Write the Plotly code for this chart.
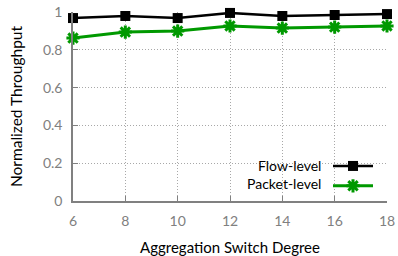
import plotly.graph_objects as go

degrees = [6, 8, 10, 12, 14, 16, 18]
flow_level = [0.968, 0.979, 0.968, 0.995, 0.979, 0.984, 0.989]
packet_level = [0.862, 0.894, 0.899, 0.926, 0.915, 0.920, 0.926]
series_names = ["Flow-level", "Packet-level"]
y_ticks = [0, 0.2, 0.4, 0.6, 0.8, 1]
y_tick_text = ["0", "0.2", "0.4", "0.6", "0.8", "1"]

FONT = "Lato, 'Open Sans', sans-serif"
GRAY = "#808080"
GRID = "#a8a8a8"

fig = go.Figure()
fig.add_trace(go.Scatter(
    x=degrees, y=flow_level, name=" ", mode="lines+markers",
    line=dict(color="black", width=2.5),
    marker=dict(symbol="square", size=10, color="black"),
    cliponaxis=False,
))
fig.add_trace(go.Scatter(
    x=degrees, y=packet_level, name=" ", mode="lines+markers",
    line=dict(color="#009900", width=3),
    marker=dict(symbol="asterisk-open", size=11, color="#009900",
                line=dict(color="#009900", width=3)),
    cliponaxis=False,
))

fig.update_layout(
    template="none",
    width=398, height=256,
    margin=dict(l=73, r=11, t=12, b=55, autoexpand=False),
    paper_bgcolor="white", plot_bgcolor="white",
    font=dict(family=FONT, size=13, color="black"),
    showlegend=True,
    legend=dict(x=1.0, y=0.0, xanchor="right", yanchor="bottom",
                bgcolor="rgba(0,0,0,0)", itemwidth=40,
                font=dict(size=13), tracegroupgap=0),
    xaxis=dict(
        automargin=False,
        range=[6, 18], tickvals=degrees, ticks="inside", ticklen=5,
        tickcolor=GRAY, showline=True, linecolor=GRAY, linewidth=1.5,
        showgrid=True, gridcolor=GRID, griddash="1px,2px", gridwidth=1,
        tickfont=dict(color=GRAY, size=14), zeroline=False,
        ticklabelstandoff=6,
        title=dict(text="Aggregation Switch Degree", standoff=19,
                   font=dict(size=15, color="black")),
    ),
    yaxis=dict(
        automargin=False,
        range=[0, 1], tickvals=y_ticks, ticktext=y_tick_text,
        ticks="inside", ticklen=5, tickcolor=GRAY, showline=True,
        linecolor=GRAY, linewidth=1.5,
        showgrid=True, gridcolor=GRID, griddash="1px,2px", gridwidth=1,
        tickfont=dict(color=GRAY, size=14), zeroline=False,
        ticklabelstandoff=6,
        title=dict(text="Normalized Throughput", standoff=16,
                   font=dict(size=15.5, color="black")),
    ),
)

# legend labels placed to the left of the legend samples (gnuplot style)
for i, nm in enumerate(series_names):
    fig.add_annotation(text=nm, xref="paper", yref="paper",
                       x=0.795, y=0.19 - i * 0.1, xanchor="right",
                       yanchor="middle", showarrow=False,
                       font=dict(size=14, color="black", family=FONT))

fig.write_html(
    "out.html",
    config={"displayModeBar": False},
    post_script="document.body.style.margin='0';"
                "document.body.style.overflow='hidden';",
)
